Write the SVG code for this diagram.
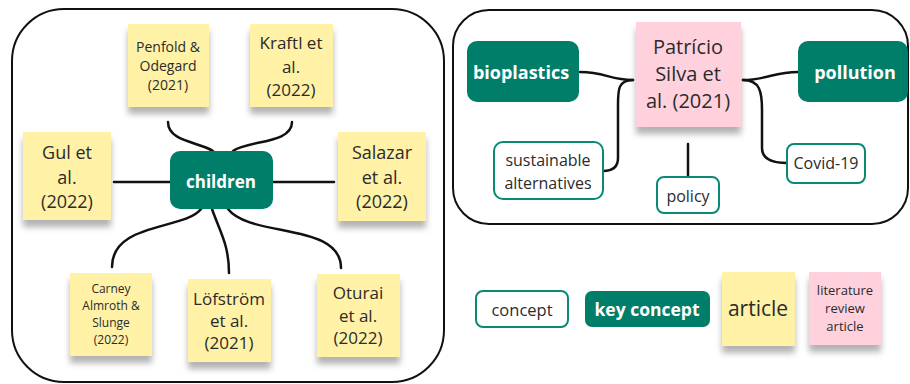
<svg xmlns="http://www.w3.org/2000/svg" width="910" height="384" viewBox="0 0 910 384">
<defs>
<filter id="sh" x="-20%" y="-20%" width="140%" height="150%">
<feDropShadow dx="0" dy="7" stdDeviation="3" flood-color="#000" flood-opacity="0.3"/>
</filter>
<style>
text{font-family:"Open Sans","Noto Sans","Liberation Sans",sans-serif;fill:#2b2b2b;text-anchor:middle;dominant-baseline:central}
.frame{fill:#fff;stroke:#111;stroke-width:2}
.note{fill:#fff1a6;filter:url(#sh)}
.pink{fill:#ffd1dc;filter:url(#sh)}
.key{fill:#007e6a}
.kt{fill:#fff;font-weight:bold}
.con{fill:#fff;stroke:#0a8a74;stroke-width:2}
.edge{fill:none;stroke:#111;stroke-width:2.5;stroke-linecap:round}
</style>
</defs>
<rect width="910" height="384" fill="#fff"/>
<rect class="frame" x="12" y="9" width="432" height="373" rx="52"/>
<rect class="frame" x="453" y="10" width="455" height="214" rx="36"/>

<g id="connectors">
<path class="edge" d="M168,122 C168,142 200,142 213,151"/>
<path class="edge" d="M292,122 C292,144 248,140 233,151"/>
<path class="edge" d="M114,182 L170,182"/>
<path class="edge" d="M273,182 L334,182"/>
<path class="edge" d="M201,209 C185,230 112,222 112,267"/>
<path class="edge" d="M212,209 C220,232 229,245 229,273"/>
<path class="edge" d="M228,209 C250,238 341,222 341,268"/>
<path class="edge" d="M580,72 C605,72 610,80 633,80"/>
<path class="edge" d="M633,80 C618,80 618,90 618,105 L618,158 C618,168 612,171 603,171"/>
<path class="edge" d="M798,72 C775,72 765,80 743,80"/>
<path class="edge" d="M743,80 C760,80 762,92 762,110 L762,148 C762,160 775,163 787,163"/>
<path class="edge" d="M688,144 L688,177"/>
</g>

<g id="penfold"><rect class="note" x="128" y="24" width="81" height="83"/>
<text x="168" y="46" font-size="14">Penfold &amp;</text><text x="168" y="65" font-size="14">Odegard</text><text x="168" y="84" font-size="14">(2021)</text></g>
<g id="kraftl"><rect class="note" x="250" y="24" width="83" height="83"/>
<text x="291" y="42" font-size="17">Kraftl et</text><text x="291" y="66" font-size="17">al.</text><text x="291" y="89" font-size="17">(2022)</text></g>
<g id="gul"><rect class="note" x="23" y="132" width="88" height="88"/>
<text x="67" y="152" font-size="18">Gul et</text><text x="67" y="177" font-size="18">al.</text><text x="67" y="201" font-size="18">(2022)</text></g>
<g id="salazar"><rect class="note" x="338" y="132" width="88" height="89"/>
<text x="382" y="152" font-size="18">Salazar</text><text x="382" y="177" font-size="18">et al.</text><text x="382" y="201" font-size="18">(2022)</text></g>
<g id="children"><rect class="key" x="170" y="151" width="103" height="58" rx="10"/>
<text class="kt" x="221" y="181" font-size="17">children</text></g>
<g id="carney"><rect class="note" x="70" y="273" width="82" height="83"/>
<text x="111" y="288" font-size="12">Carney</text><text x="111" y="305" font-size="12">Almroth &amp;</text><text x="111" y="322" font-size="12">Slunge</text><text x="111" y="339" font-size="12">(2022)</text></g>
<g id="lofstrom"><rect class="note" x="188" y="279" width="83" height="83"/>
<text x="229" y="298" font-size="17">Löfström</text><text x="229" y="320" font-size="17">et al.</text><text x="229" y="342" font-size="17">(2021)</text></g>
<g id="oturai"><rect class="note" x="317" y="274" width="83" height="83"/>
<text x="358" y="292" font-size="17">Oturai</text><text x="358" y="315" font-size="17">et al.</text><text x="358" y="337" font-size="17">(2022)</text></g>

<g id="bioplastics"><rect class="key" x="467" y="41" width="112" height="61" rx="10"/>
<text class="kt" x="521" y="72" font-size="18">bioplastics</text></g>
<g id="patricio"><rect class="pink" x="636" y="22" width="105" height="105"/>
<text x="688" y="46" font-size="20">Patrício</text><text x="688" y="73" font-size="20">Silva et</text><text x="688" y="100" font-size="20">al. (2021)</text></g>
<g id="pollution"><rect class="key" x="798" y="41" width="110" height="61" rx="10"/>
<text class="kt" x="855" y="72" font-size="18">pollution</text></g>
<g id="sustainable"><rect class="con" x="494" y="142" width="109" height="57" rx="9"/>
<text x="548" y="160" font-size="16">sustainable</text><text x="548" y="183" font-size="16">alternatives</text></g>
<g id="policy"><rect class="con" x="657" y="177" width="62" height="36" rx="7"/>
<text x="688" y="196" font-size="16">policy</text></g>
<g id="covid"><rect class="con" x="787" y="144" width="78" height="39" rx="7"/>
<text x="826" y="163" font-size="16">Covid-19</text></g>

<g id="legend-concept"><rect class="con" x="476" y="291" width="92" height="36" rx="7"/>
<text x="522" y="309" font-size="16.5">concept</text></g>
<g id="legend-key"><rect class="key" x="585" y="291" width="125" height="36" rx="7"/>
<text class="kt" x="647" y="309" font-size="17.5">key concept</text></g>
<g id="legend-article"><rect class="note" x="722" y="272" width="73" height="74"/>
<text x="758" y="308" font-size="21">article</text></g>
<g id="legend-review"><rect class="pink" x="809" y="272" width="72" height="73"/>
<text x="845" y="290" font-size="13">literature</text><text x="845" y="308" font-size="13">review</text><text x="845" y="326" font-size="13">article</text></g>
</svg>
